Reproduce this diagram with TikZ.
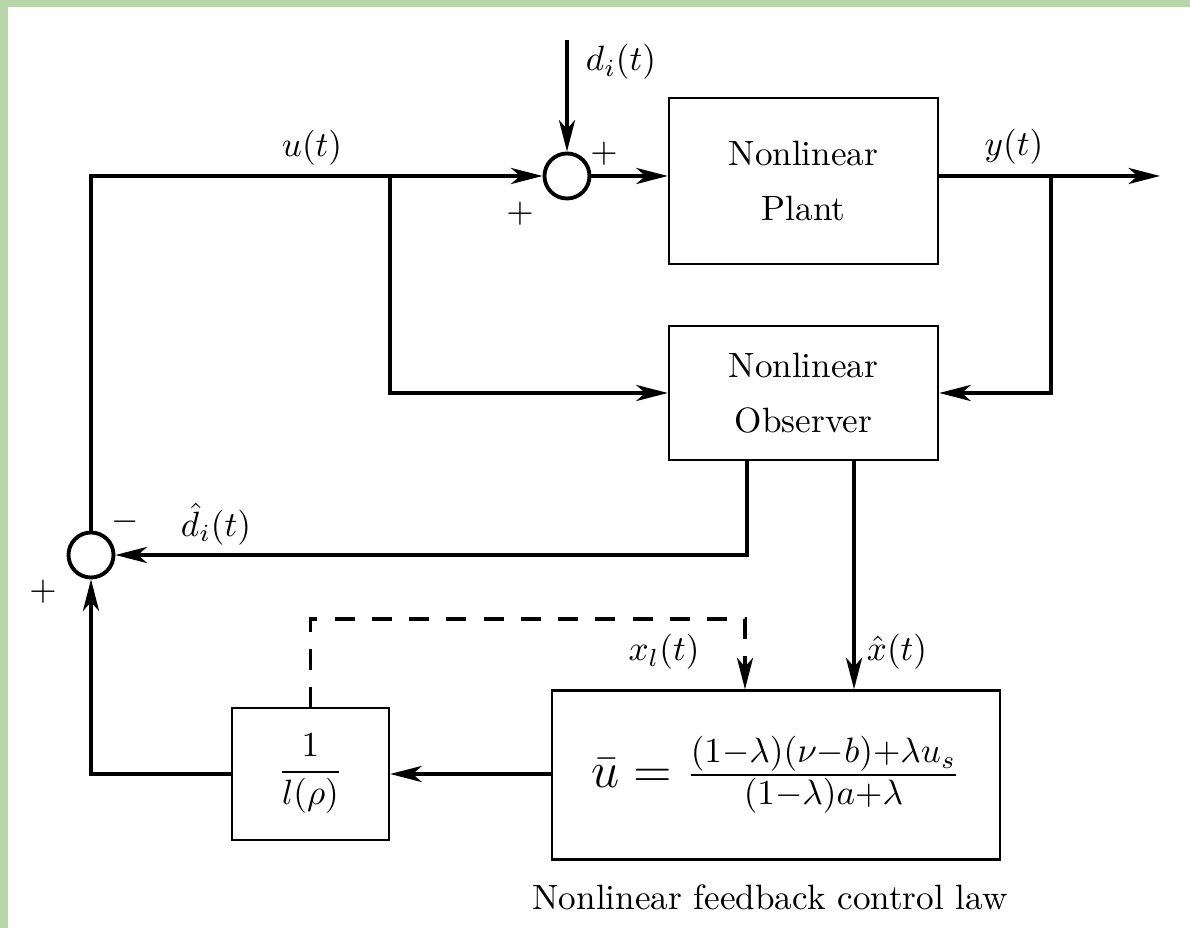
\documentclass[tikz,border=0pt]{standalone}
\usepackage{amsmath,amssymb}
\usepackage{xcolor}
\usepackage{tikz}
\usetikzlibrary{arrows.meta,positioning,calc}
\definecolor{marble}{RGB}{184,212,170}

\begin{document}
\begin{tikzpicture}[
    x=0.01cm, y=-0.01cm,
    every node/.style={font=\normalsize},
    sig/.style={-{Stealth[length=9pt,width=4.6pt,inset=2.6pt]},
                line width=0.95pt, black},
    sigd/.style={sig, dash pattern=on 5.7pt off 4.9pt},
    blk/.style={draw=black, fill=white, line width=0.65pt,
                align=center, inner sep=0pt,
                font={\fontsize{10}{15.6}\selectfont}},
    sumj/.style={circle, draw=black, fill=white, line width=1.1pt,
                 minimum size=0.45cm, inner sep=0pt},
    sgn/.style={inner sep=0pt},
]

% ── frame ────────────────────────────────────────────────────
\fill[marble] (0,0) rectangle (1190,928);
\fill[white] (8,7) rectangle (1190,928);
\useasboundingbox (0,0) rectangle (1190,928);

% ════ BLOCKS ═════════════════════════════════════════════════
\node[sumj] (sumA) at (567,176) {};
\node[sumj] (sumB) at (91,555) {};
\node[blk, minimum width=2.69cm, minimum height=1.66cm] (plant) at (803.5,181)
    {Nonlinear\\Plant};
\node[blk, minimum width=2.69cm, minimum height=1.34cm] (obs) at (803.5,393)
    {Nonlinear\\Observer};
\node[blk, minimum width=4.48cm, minimum height=1.69cm] (law) at (776,775)
    {\Large $\bar{u} = \frac{(1-\lambda)(\nu-b)+\lambda u_s}{(1-\lambda)a+\lambda}$};
\node[blk, minimum width=1.57cm, minimum height=1.32cm] (gain) at (310.5,774)
    {$\displaystyle\frac{1}{l(\rho)}$};

% ── taps and free ends ───────────────────────────────────────
\coordinate (dsrc) at (567,40);
\coordinate (utap) at (390,176);
\coordinate (ytap) at (1051,176);
\coordinate (yend) at (1160,176);
\coordinate (dhat) at ([xshift=-0.565cm]obs.south);
\coordinate (xhat) at ([xshift=0.505cm]obs.south);
\coordinate (xlc)  at (745,619);

% ════ SIGNALS ════════════════════════════════════════════════
\draw[sig] (dsrc) -- (sumA.north);
\draw[sig] (sumB.north) |- (sumA.west);
\draw[sig] (sumA.east) -- (sumA.east -| plant.west);
\draw[sig] (sumA.east -| plant.east) -- (yend);
\draw[sig] (utap) |- (obs.west);
\draw[sig] (ytap) |- (obs.east);
\draw[sig] (dhat) |- (sumB.east);
\draw[sig] (xhat) -- (xhat |- law.north);
\draw[sig] (gain.east -| law.west) -- (gain.east);
\draw[sig] (gain.west) -| (sumB.south);
\draw[sigd] (gain.north) |- (xlc) -- (xlc |- law.north);

% ════ LABELS ═════════════════════════════════════════════════
\node at (621,62) {$d_i(t)$};
\node[sgn] at (604,154) {$+$};
\node[sgn] at (520,214) {$+$};
\node at (312,148) {$u(t)$};
\node at (1014,147) {$y(t)$};
\node at (216,524) {$\hat{d}_i(t)$};
\node[sgn] at (125,522) {$-$};
\node[sgn] at (43,592) {$+$};
\node at (664,652) {$x_l(t)$};
\node at (897,652) {$\hat{x}(t)$};
\node at (770,897) {Nonlinear feedback control law};

\end{tikzpicture}
\end{document}
